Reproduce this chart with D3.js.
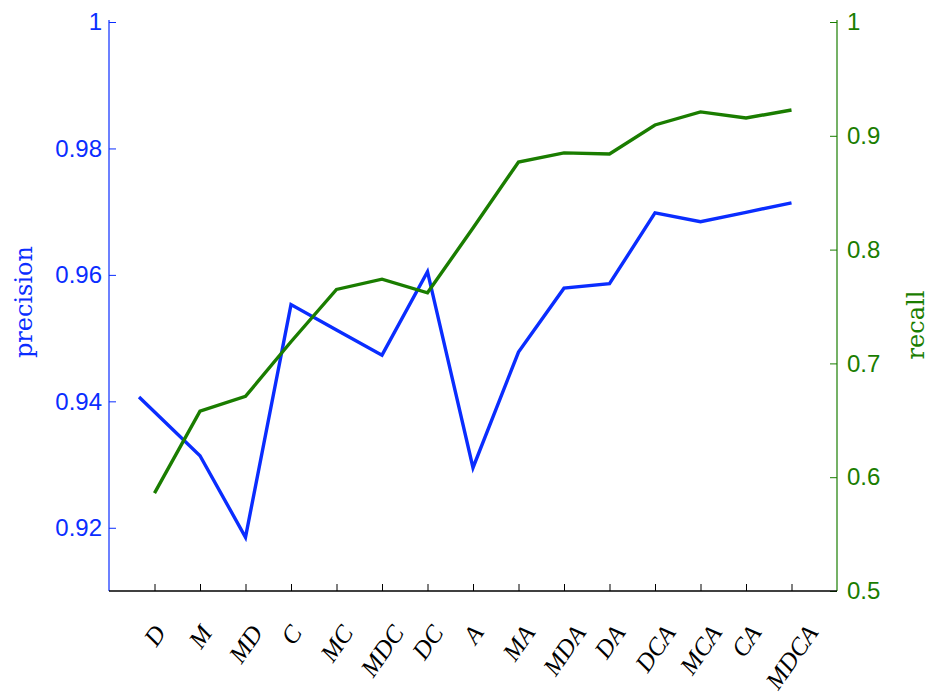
<!DOCTYPE html>
<html>
<head>
<meta charset="utf-8">
<script src="https://cdn.jsdelivr.net/npm/d3@7/dist/d3.min.js"></script>
<style>
  html, body { margin: 0; padding: 0; background: #fff; }
  svg { display: block; }
</style>
</head>
<body>
<svg id="chart" width="929" height="695"></svg>
<script>
// ---- data ----
const categories = ["D","M","MD","C","MC","MDC","DC","A","MA","MDA","DA","DCA","MCA","CA","MDCA"];
// positions along x (category slots 1..15); the precision curve starts a little left of "D"
const precisionPos = [0.66, 2, 3, 4, 5, 6, 7, 8, 9, 10, 11, 12, 13, 14, 15];
const precision = [0.9407, 0.9314, 0.9185, 0.9553, 0.9513, 0.9473, 0.9605, 0.9295, 0.9478, 0.9579, 0.9586, 0.9698, 0.9684, 0.9699, 0.9714];
const recallPos = [1, 2, 3, 4, 5, 6, 7, 8, 9, 10, 11, 12, 13, 14, 15];
const recall = [0.586, 0.658, 0.671, 0.719, 0.765, 0.774, 0.762, 0.819, 0.877, 0.885, 0.884, 0.9095, 0.921, 0.9156, 0.9227];
const precisionTicks = [0.92, 0.94, 0.96, 0.98, 1];
const precisionTickLabels = ["0.92", "0.94", "0.96", "0.98", "1"];
const recallTicks = [0.5, 0.6, 0.7, 0.8, 0.9, 1];
const recallTickLabels = ["0.5", "0.6", "0.7", "0.8", "0.9", "1"];

// ---- layout ----
const L = 109, R = 837, T = 22, B = 591;
const blue = "#0a2dff", green = "#1a7d00";
const svg = d3.select("#chart");

const x = d3.scaleLinear().domain([0, 16]).range([L, R]);
const yL = d3.scaleLinear().domain([0.91, 1]).range([B, T]);
const yR = d3.scaleLinear().domain([0.5, 1]).range([B, T]);

const tickFont = "'Liberation Sans', Arial, sans-serif";

// left axis
const leftAxis = d3.axisLeft(yL).tickValues(precisionTicks)
  .tickFormat((d, i) => precisionTickLabels[i]).tickSizeInner(-7).tickSizeOuter(0).tickPadding(7);
const gL = svg.append("g").attr("transform", `translate(${L},0)`).call(leftAxis);
gL.select(".domain").attr("stroke", blue).attr("stroke-width", 1.2).attr("d", `M0,${T - 2}V${B}`);
gL.selectAll(".tick line").attr("stroke", blue);
gL.selectAll(".tick text").attr("fill", blue)
  .style("font-family", tickFont).style("font-size", "24px");

// right axis
const rightAxis = d3.axisRight(yR).tickValues(recallTicks)
  .tickFormat((d, i) => recallTickLabels[i]).tickSizeInner(-7).tickSizeOuter(0).tickPadding(10);
const gR = svg.append("g").attr("transform", `translate(${R},0)`).call(rightAxis);
gR.select(".domain").attr("stroke", green).attr("stroke-width", 1.2).attr("d", `M0,${T - 2}V${B}`);
gR.selectAll(".tick line").attr("stroke", green);
gR.selectAll(".tick text").attr("fill", green)
  .style("font-family", tickFont).style("font-size", "24px");

// bottom axis
const bottomAxis = d3.axisBottom(x).tickValues(recallPos)
  .tickFormat("").tickSizeInner(-7).tickSizeOuter(0);
const gB = svg.append("g").attr("transform", `translate(0,${B})`).call(bottomAxis);
gB.select(".domain").attr("stroke", "#000").attr("stroke-width", 1.5).attr("d", `M${L},0H${R}`);
gB.selectAll(".tick line").attr("stroke", "#000");

// rotated category labels
const ang = 55, rad = ang * Math.PI / 180, fs = 25, topY = 623;
const lab = svg.append("g");
categories.forEach((c, i) => {
  const t = lab.append("text")
    .attr("text-anchor", "middle")
    .attr("dy", "0.35em")
    .style("font-family", "'Liberation Serif', 'Times New Roman', serif")
    .style("font-style", "italic")
    .style("font-size", fs + "px")
    .attr("fill", "#000")
    .text(c);
  const w = t.node().getComputedTextLength();
  const h = fs * 0.68;
  const H = w * Math.sin(rad) + h * Math.cos(rad);
  const cx = x(recallPos[i]), cy = topY + H / 2;
  t.attr("transform", `translate(${cx},${cy}) rotate(${-ang})`);
});

// lines
const lineP = d3.line().x(d => x(d[0])).y(d => yL(d[1]));
const lineR = d3.line().x(d => x(d[0])).y(d => yR(d[1]));
svg.append("path").datum(precision.map((v, i) => [precisionPos[i], v]))
  .attr("d", lineP).attr("fill", "none").attr("stroke", blue).attr("stroke-width", 3.4)
  .attr("stroke-linejoin", "miter");
svg.append("path").datum(recall.map((v, i) => [recallPos[i], v]))
  .attr("d", lineR).attr("fill", "none").attr("stroke", green).attr("stroke-width", 3.4)
  .attr("stroke-linejoin", "miter");

// axis titles
svg.append("text")
  .attr("transform", `translate(32,302) rotate(-90)`)
  .attr("text-anchor", "middle")
  .style("font-family", "'DejaVu Serif', serif").style("font-size", "24px")
  .attr("fill", blue).text("precision");
svg.append("text")
  .attr("transform", `translate(924,325) rotate(-90)`)
  .attr("text-anchor", "middle")
  .style("font-family", "'DejaVu Serif', serif").style("font-size", "24px")
  .attr("fill", green).text("recall");
</script>
</body>
</html>
